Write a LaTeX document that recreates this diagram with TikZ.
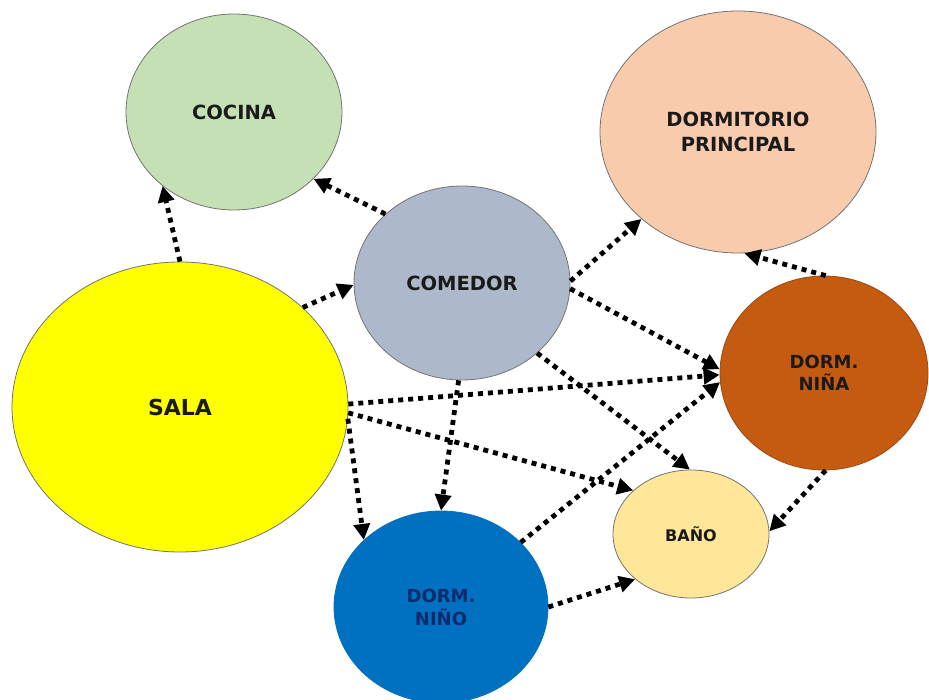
\documentclass[tikz,border=0pt]{standalone}
\usepackage{fontspec}
\setmainfont{DejaVu Sans}
\usetikzlibrary{shapes.geometric,arrows.meta}
\definecolor{cCocina}{HTML}{C5E0B4}
\definecolor{cDP}{HTML}{F8CBAD}
\definecolor{cComedor}{HTML}{ADB9CA}
\definecolor{cSala}{HTML}{FFFF00}
\definecolor{cNina}{HTML}{C55A11}
\definecolor{cBano}{HTML}{FFE699}
\definecolor{cNino}{HTML}{0070C0}
\definecolor{cNinoText}{HTML}{0D2A6B}
\definecolor{cText}{HTML}{1A1A1A}
\begin{document}
\begin{tikzpicture}[x=1pt,y=-1pt,
  room/.style={ellipse, draw=black!55, line width=0.8pt, inner sep=0pt, align=center,
    text=cText, font=\bfseries\fontsize{19.5}{25}\selectfont},
  link/.style={line width=4.8pt, dash pattern=on 5pt off 5pt,
    -{Triangle[length=16pt,width=16pt]}}]
\useasboundingbox (0,0) rectangle (929,700);
\node[room, fill=cCocina, minimum width=216pt, minimum height=196pt] (cocina) at (234,112) {COCINA};
\node[room, fill=cDP, minimum width=276pt, minimum height=242pt] (dp) at (738,132) {DORMITORIO\\PRINCIPAL};
\node[room, fill=cComedor, minimum width=216pt, minimum height=194pt] (comedor) at (462,283) {COMEDOR};
\node[room, fill=cSala, minimum width=336pt, minimum height=290pt, font=\bfseries\fontsize{22}{26}\selectfont] (sala) at (180,407) {SALA};
\node[room, fill=cNina, draw=cNina!80!black, minimum width=208pt, minimum height=194pt, font=\bfseries\fontsize{18}{22}\selectfont] (nina) at (824,373) {DORM.\\NIÑA};
\node[room, fill=cBano, minimum width=156pt, minimum height=128pt, font=\bfseries\fontsize{16}{20}\selectfont] (bano) at (691,534) {BAÑO};
\node[room, fill=cNino, draw=cNino, minimum width=214pt, minimum height=192pt, text=cNinoText, font=\bfseries\fontsize{18}{23}\selectfont] (nino) at (441,607) {DORM.\\NIÑO};

\draw[link] (sala.90) -- (cocina.226);
\draw[link] (comedor.138) -- (cocina.320);
\draw[link] (sala.39) -- (comedor.181);
\draw[link] (comedor.1) -- (dp.222);
\draw[link] (nina.89) -- (dp.273);
\draw[link] (comedor.357) -- (nina.178);
\draw[link] (sala.1) -- (nina.181);
\draw[link] (nino.39) -- (nina.185);
\draw[link] (comedor.317) -- (bano.91);
\draw[link] (sala.358) -- (bano.143);
\draw[link] (sala.356) -- (nino.139);
\draw[link] (comedor.268) -- (nino.90);
\draw[link] (nina.271) -- (bano.2);
\draw[link] (nino.0) -- (bano.219);
\end{tikzpicture}
\end{document}
